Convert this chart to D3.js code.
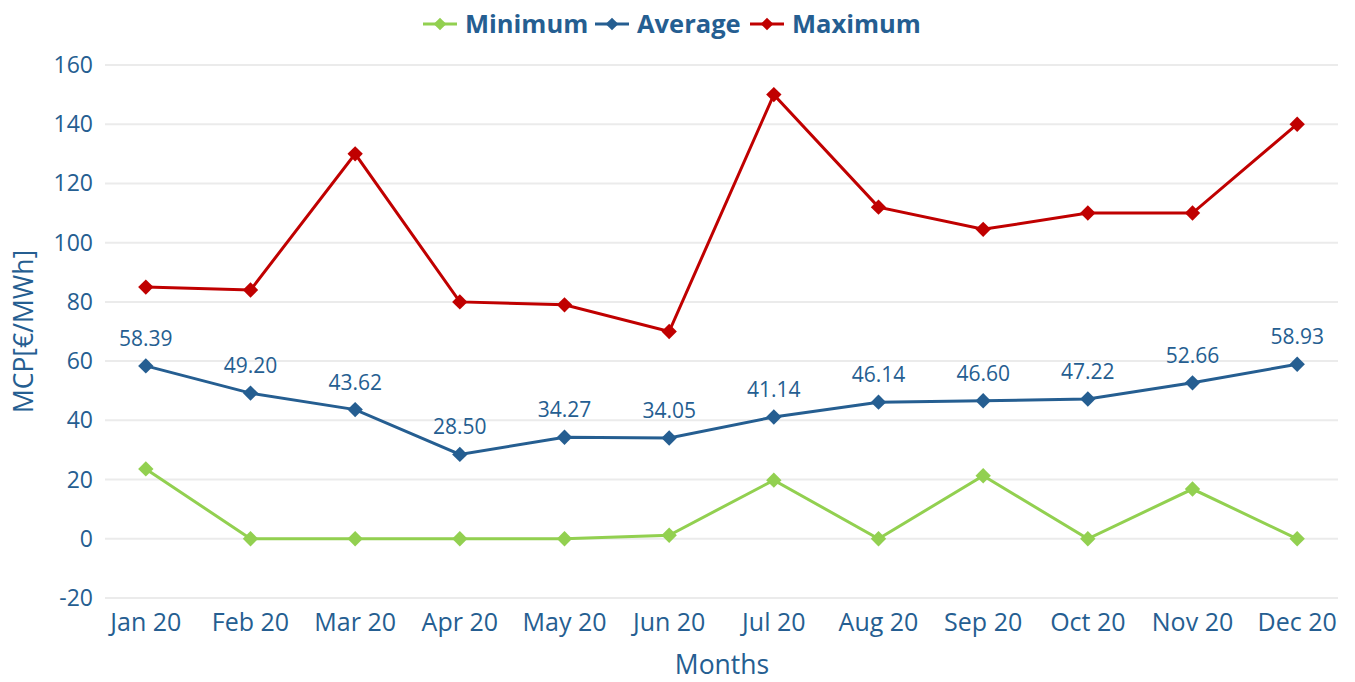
<!DOCTYPE html>
<html>
<head>
    <meta charset="utf-8" />
    <title>MCP 2020</title>
    <style>
        body { margin: 0; background: #fff; font-family: "Open Sans", "Noto Sans", sans-serif; }
        .y-label { fill: #255E91; font-size: 23px; }
        .x-label { fill: #255E91; font-size: 25px; }
        .axis-title { fill: #255E91; font-size: 26.5px; }
        .legend-label { fill: #255E91; font-size: 25.5px; font-weight: bold; }
        .data-label { fill: #255E91; font-size: 21px; text-anchor: middle; }
    </style>
</head>
<body>
    <script src="https://d3js.org/d3.v7.min.js"></script>
    <script>
        let months = ['Jan 20', 'Feb 20', 'Mar 20', 'Apr 20', 'May 20', 'Jun 20',
                      'Jul 20', 'Aug 20', 'Sep 20', 'Oct 20', 'Nov 20', 'Dec 20']
        let minimum = [23.6, 0, 0, 0, 0, 1.2, 19.8, 0, 21.3, 0, 16.8, 0]
        let average = [58.39, 49.20, 43.62, 28.50, 34.27, 34.05, 41.14, 46.14, 46.60, 47.22, 52.66, 58.93]
        let maximum = [85, 84, 130, 80, 79, 70, 150, 112, 104.5, 110, 110, 140]
        let yTicks = [-20, 0, 20, 40, 60, 80, 100, 120, 140, 160]

        let series = [
            { name: 'Minimum', values: minimum, color: '#92D050' },
            { name: 'Average', values: average, color: '#255E91' },
            { name: 'Maximum', values: maximum, color: '#C00000' }
        ]

        let width = 1355, height = 682
        let left = 105, right = 1338

        let x = d3.scalePoint()
                  .domain(months)
                  .range([left, right])
                  .padding(0.39)

        let y = d3.scaleLinear()
                  .domain([-20, 160])
                  .range([598, 65])

        let svg = d3.select('body')
                    .append('svg')
                    .attr('width', width)
                    .attr('height', height)

        // gridlines
        svg.append('g')
            .selectAll('line')
            .data(yTicks)
            .enter()
                .append('line')
                .attr('x1', left)
                .attr('x2', right)
                .attr('y1', d => y(d))
                .attr('y2', d => y(d))
                .attr('stroke', '#EBEBEB')
                .attr('stroke-width', 2)

        svg.append('g')
            .selectAll('text')
            .data(yTicks)
            .enter()
                .append('text')
                .classed('y-label', true)
                .attr('x', 93)
                .attr('y', d => y(d))
                .attr('dy', '0.35em')
                .attr('text-anchor', 'end')
                .text(d => d)

        svg.append('g')
            .selectAll('text')
            .data(months)
            .enter()
                .append('text')
                .classed('x-label', true)
                .attr('x', d => x(d))
                .attr('y', 631)
                .attr('text-anchor', 'middle')
                .text(d => d)

        svg.append('text')
            .classed('axis-title', true)
            .attr('x', 722)
            .attr('y', 674)
            .attr('text-anchor', 'middle')
            .text('Months')

        svg.append('text')
            .classed('axis-title', true)
            .attr('transform', `translate(33, ${y(70)}) rotate(-90)`)
            .attr('text-anchor', 'middle')
            .text('MCP[€/MWh]')

        let line = d3.line()
                     .x((d, i) => x(months[i]))
                     .y(d => y(d))

        let diamond = d3.symbol().type(d3.symbolSquare).size(118)

        series.forEach(function (s) {
            let g = svg.append('g')
            g.append('path')
                .datum(s.values)
                .attr('d', line)
                .attr('fill', 'none')
                .attr('stroke', s.color)
                .attr('stroke-width', 3)
            g.selectAll('path.marker')
                .data(s.values)
                .enter()
                    .append('path')
                    .classed('marker', true)
                    .attr('d', diamond)
                    .attr('transform', (d, i) => `translate(${x(months[i])}, ${y(d)}) rotate(45)`)
                    .attr('fill', s.color)
        })

        // data labels for average
        svg.append('g')
            .selectAll('text')
            .data(average)
            .enter()
                .append('text')
                .classed('data-label', true)
                .attr('x', (d, i) => x(months[i]))
                .attr('y', d => y(d) - 20)
                .text(d => d.toFixed(2))

        // legend
        let legendPos = [423, 595, 750]
        let legend = svg.append('g')
            .selectAll('g')
            .data(series)
            .enter()
                .append('g')
                .attr('transform', (d, i) => `translate(${legendPos[i]}, 24)`)

        legend.append('line')
            .attr('x1', 0).attr('x2', 34)
            .attr('y1', 0).attr('y2', 0)
            .attr('stroke', d => d.color)
            .attr('stroke-width', 3)
        legend.append('path')
            .attr('d', d3.symbol().type(d3.symbolSquare).size(80))
            .attr('transform', 'translate(17, 0) rotate(45)')
            .attr('fill', d => d.color)
        legend.append('text')
            .classed('legend-label', true)
            .attr('x', 42)
            .attr('dy', '0.35em')
            .text(d => d.name)
    </script>
</body>
</html>
